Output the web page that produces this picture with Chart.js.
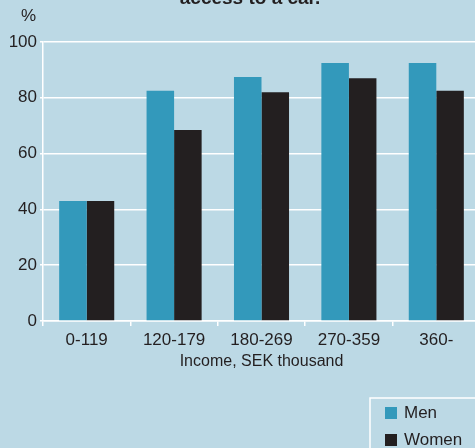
<!DOCTYPE html>
<html>
<head>
<meta charset="utf-8">
<script src="https://cdn.jsdelivr.net/npm/chart.js@4/dist/chart.umd.min.js"></script>
<style>
  html, body { margin: 0; padding: 0; width: 475px; height: 448px; overflow: hidden; background: #bcd9e5; }
  #wrap { position: relative; margin-top: -14px; width: 485px; height: 462px; }
</style>
</head>
<body>
<div id="wrap"><canvas id="chart" width="485" height="462"></canvas></div>
<script>
const categories = ["0-119", "120-179", "180-269", "270-359", "360-"];
const men = [43, 82.5, 87.5, 92.5, 92.5];
const women = [43, 68.5, 82, 87, 82.5];
const yTicks = [0, 20, 40, 60, 80, 100];
const titleText = "access to a car.";
const unitText = "%";
const xTitle = "Income, SEK thousand";

const ink = "#231f20";
const font = "'Liberation Sans', Arial, sans-serif";

// title, unit and the framed legend in the bottom right corner
const decorations = {
  id: "decorations",
  afterDraw(chart) {
    const ctx = chart.ctx;
    ctx.save();
    ctx.fillStyle = ink;
    ctx.textAlign = "center";
    ctx.textBaseline = "alphabetic";
    ctx.font = "bold 19px " + font;
    ctx.fillText(titleText, 250, 18);

    ctx.font = "17px " + font;
    ctx.textBaseline = "middle";
    ctx.fillText(unitText, 28.5, 30);

    const bx = 370, by = 412;
    ctx.strokeStyle = "#ffffff";
    ctx.lineWidth = 1.5;
    ctx.strokeRect(bx, by, 200, 100);
    ctx.textAlign = "left";
    chart.data.datasets.forEach((ds, i) => {
      const cy = by + 15 + i * 27;
      ctx.fillStyle = ds.backgroundColor;
      ctx.fillRect(bx + 15, cy - 6, 12, 12);
      ctx.fillStyle = ink;
      ctx.fillText(ds.label, bx + 34, cy);
    });
    ctx.restore();
  },
};

new Chart(document.getElementById("chart"), {
  type: "bar",
  data: {
    labels: categories,
    datasets: [
      { label: "Men", data: men, backgroundColor: "#3399bb", borderWidth: 0 },
      { label: "Women", data: women, backgroundColor: ink, borderWidth: 0 },
    ],
  },
  options: {
    responsive: false,
    animation: false,
    barPercentage: 1,
    categoryPercentage: 0.63,
    layout: { padding: { top: 56, right: 5, bottom: 77, left: 0 } },
    plugins: {
      legend: { display: false },
      tooltip: { enabled: false },
    },
    scales: {
      x: {
        grid: { drawOnChartArea: false, color: "#ffffff", lineWidth: 1.5, tickLength: 5 },
        border: { color: "#ffffff", width: 1.5 },
        ticks: { color: ink, font: { family: font, size: 17 }, padding: 4, maxRotation: 0 },
        title: { display: true, text: xTitle, color: ink, font: { family: font, size: 16 }, padding: 0 },
        afterFit(scale) { scale.height = 50; },
      },
      y: {
        min: 0,
        max: 100,
        afterBuildTicks(scale) { scale.ticks = yTicks.map((v) => ({ value: v })); },
        grid: { color: "#ffffff", lineWidth: 1.5, tickLength: 3 },
        border: { color: "#ffffff", width: 1.5 },
        ticks: { color: ink, font: { family: font, size: 17 }, padding: 3 },
        afterFit(scale) { scale.width = 43; },
      },
    },
  },
  plugins: [decorations],
});
</script>
</body>
</html>
